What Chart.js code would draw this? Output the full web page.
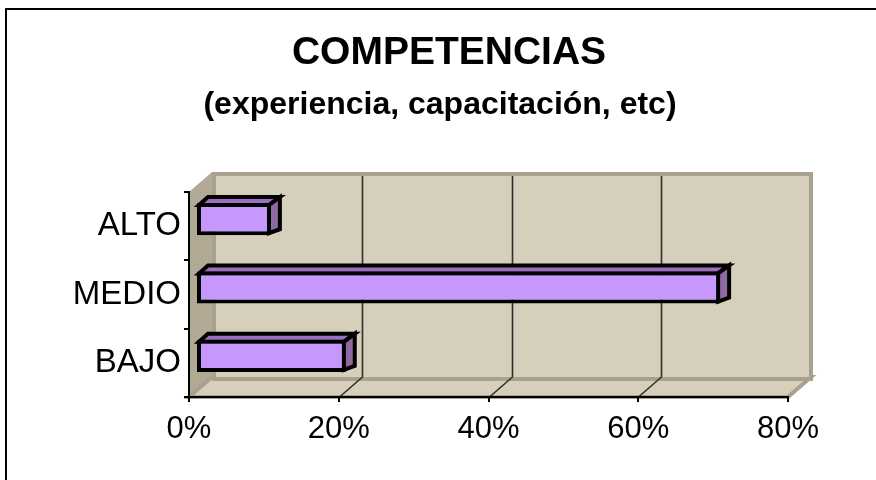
<!DOCTYPE html>
<html>
<head>
<meta charset="utf-8">
<script src="https://cdn.jsdelivr.net/npm/chart.js@4"></script>
<style>
  html, body { margin: 0; padding: 0; background: #ffffff; }
  #wrap { width: 876px; height: 480px; position: relative; }
</style>
</head>
<body>
<div id="wrap"><canvas id="chart" width="876" height="480"></canvas></div>
<script>
// Chart data
const categories = ['ALTO', 'MEDIO', 'BAJO'];
const values = [10, 70, 20];
const xTicks = [0, 20, 40, 60, 80];
const titleText = 'COMPETENCIAS';
const subtitleText = '(experiencia, capacitación, etc)';

// 3D look
const depth = { dx: 23, dy: -20 };      // back wall offset
const barShift = { dx: 7, dy: -7 };     // bar front face sits a bit inside
const barDepth = { dx: 9, dy: -6 };     // bar thickness
const colors = {
    wall: '#d5cfbb',
    wallEdge: '#a7a18d',
    sideWall: '#b1a994',
    grid: '#2e2e2e',
    barFront: '#c698fe',
    barTop: '#9b6fbf',
    barSide: '#8e6aa0',
    ink: '#000000'
};

// Walls, floor and back gridlines
const wallsPlugin = {
    id: 'walls',
    beforeDraw(chart) {
        const { ctx, chartArea: a, scales } = chart;
        const dx = depth.dx, dy = depth.dy;
        ctx.save();

        // outer frame
        ctx.strokeStyle = colors.ink;
        ctx.lineWidth = 2;
        ctx.beginPath();
        ctx.moveTo(6, 480);
        ctx.lineTo(6, 9);
        ctx.lineTo(876, 9);
        ctx.stroke();

        // left side wall
        ctx.fillStyle = colors.sideWall;
        ctx.beginPath();
        ctx.moveTo(a.left, a.top);
        ctx.lineTo(a.left + dx, a.top + dy);
        ctx.lineTo(a.left + dx, a.bottom + dy);
        ctx.lineTo(a.left, a.bottom);
        ctx.closePath();
        ctx.fill();

        // floor
        ctx.fillStyle = colors.wall;
        ctx.strokeStyle = colors.wallEdge;
        ctx.lineWidth = 4;
        ctx.lineJoin = 'miter';
        ctx.beginPath();
        ctx.moveTo(a.left, a.bottom);
        ctx.lineTo(a.left + dx, a.bottom + dy);
        ctx.lineTo(a.right + dx, a.bottom + dy);
        ctx.lineTo(a.right, a.bottom);
        ctx.closePath();
        ctx.fill();
        ctx.stroke();

        // back wall
        ctx.fillStyle = colors.wall;
        ctx.fillRect(a.left + dx, a.top + dy, a.right - a.left, a.bottom - a.top);
        ctx.strokeRect(a.left + dx + 2, a.top + dy + 2, a.right - a.left - 2, a.bottom - a.top);

        // gridlines on back wall + floor
        ctx.strokeStyle = colors.grid;
        ctx.lineWidth = 1.6;
        xTicks.forEach(v => {
            if (v === xTicks[0] || v === xTicks[xTicks.length - 1]) return;
            const x = Math.round(scales.x.getPixelForValue(v)) + 0.5;
            ctx.beginPath();
            ctx.moveTo(x + dx, a.top + dy + 4);
            ctx.lineTo(x + dx, a.bottom + dy);
            ctx.lineTo(x, a.bottom);
            ctx.stroke();
        });
        ctx.restore();
    },
    afterDraw(chart) {
        const { ctx } = chart;
        ctx.save();
        ctx.fillStyle = colors.ink;
        ctx.textAlign = 'center';
        ctx.textBaseline = 'alphabetic';
        ctx.font = 'bold 39px "Liberation Sans", Arial, sans-serif';
        ctx.fillText(titleText, 449, 64);
        ctx.font = 'bold 32px "Liberation Sans", Arial, sans-serif';
        ctx.fillText(subtitleText, 440, 114);
        ctx.restore();
    }
};

// 3D bar faces; the front face is drawn by Chart.js, shifted into the box
const barsPlugin = {
    id: 'bars3d',
    beforeDatasetsDraw(chart) {
        const { ctx } = chart;
        const meta = chart.getDatasetMeta(0);
        ctx.save();
        ctx.translate(barShift.dx, barShift.dy);
        ctx.strokeStyle = colors.ink;
        ctx.lineWidth = 4;
        ctx.lineJoin = 'miter';
        meta.data.forEach(bar => {
            const L = bar.base, R = bar.x;
            const T = bar.y - bar.height / 2, B = bar.y + bar.height / 2;
            // top face
            ctx.fillStyle = colors.barTop;
            ctx.beginPath();
            ctx.moveTo(L + 2, T + 2);
            ctx.lineTo(L + 2 + barDepth.dx, T + barDepth.dy);
            ctx.lineTo(R + barDepth.dx, T + barDepth.dy);
            ctx.lineTo(R - 2, T + 2);
            ctx.closePath();
            ctx.fill();
            ctx.stroke();
            // side face
            ctx.fillStyle = colors.barSide;
            ctx.beginPath();
            ctx.moveTo(R - 2, T + 2);
            ctx.lineTo(R + barDepth.dx, T + barDepth.dy);
            ctx.lineTo(R + barDepth.dx, B + barDepth.dy);
            ctx.lineTo(R - 2, B - 2);
            ctx.closePath();
            ctx.fill();
            ctx.stroke();
        });
    },
    afterDatasetsDraw(chart) {
        chart.ctx.restore();
    }
};

new Chart(document.getElementById('chart').getContext('2d'), {
    type: 'bar',
    data: {
        labels: categories,
        datasets: [{
            data: values,
            backgroundColor: colors.barFront,
            borderColor: colors.ink,
            borderWidth: 4,
            borderSkipped: false,
            barPercentage: 0.47,
            categoryPercentage: 1
        }]
    },
    options: {
        indexAxis: 'y',
        responsive: false,
        animation: false,
        devicePixelRatio: 1,
        layout: {
            padding: { left: 0, top: 192, right: 88, bottom: 23 }
        },
        plugins: {
            legend: { display: false },
            tooltip: { enabled: false },
            title: { display: false }
        },
        scales: {
            x: {
                min: 0,
                max: 80,
                afterFit: s => { s.height = 60; },
                afterBuildTicks: s => { s.ticks = xTicks.map(v => ({ value: v })); },
                ticks: {
                    color: colors.ink,
                    padding: 9,
                    maxRotation: 0,
                    font: { family: '"Liberation Sans", Arial, sans-serif', size: 31 },
                    callback: v => v + '%'
                },
                grid: {
                    drawOnChartArea: false,
                    drawTicks: true,
                    tickLength: 5,
                    color: colors.ink,
                    lineWidth: 2
                },
                border: { display: true, color: colors.ink, width: 2 }
            },
            y: {
                afterFit: s => { s.width = 189; },
                ticks: {
                    color: colors.ink,
                    padding: 3,
                    font: { family: '"Liberation Sans", Arial, sans-serif', size: 33 }
                },
                grid: {
                    offset: true,
                    drawOnChartArea: false,
                    drawTicks: true,
                    tickLength: 5,
                    color: colors.ink,
                    lineWidth: 2
                },
                border: { display: true, color: colors.ink, width: 2 }
            }
        }
    },
    plugins: [wallsPlugin, barsPlugin]
});
</script>
</body>
</html>
